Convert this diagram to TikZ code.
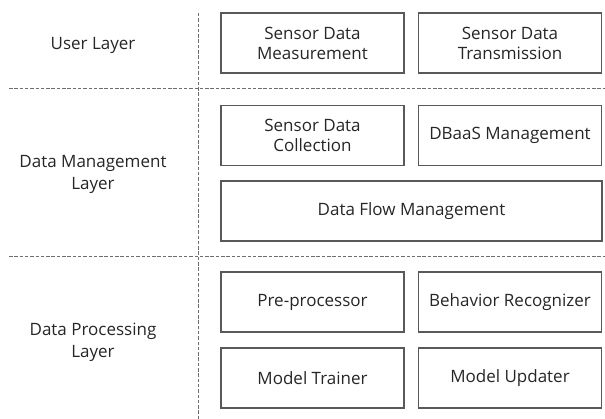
\documentclass[tikz,border=0pt]{standalone}
\usepackage{fontspec}
\setmainfont{Open Sans}
\definecolor{BoxLine}{HTML}{595959}
\definecolor{SepLine}{HTML}{6E6E6E}

\tikzset{
  blk/.style={draw=BoxLine, line width=1.2pt, minimum width=183pt, minimum height=60pt, align=center, inner sep=0pt, font=\fontsize{17}{20}\selectfont, text=black!85},
  wideblk/.style={blk, minimum width=381pt},
  lyr/.style={align=center, font=\fontsize{17}{22}\selectfont, text=black!85},
  sep/.style={dashed, dash pattern=on 3.5pt off 1.8pt, line width=1pt, color=SepLine}
}

\begin{document}
\begin{tikzpicture}[x=1pt, y=-1pt]

 \useasboundingbox (0,0) rectangle (605,419);

 %%%%%%%%%% Points pour travailler %%%%%%%%%%
 \coordinate (vtop) at (198,13);
 \coordinate (vbot) at (198,419);
 \coordinate (h1l) at (9,89);
 \coordinate (h1r) at (605,89);
 \coordinate (h2l) at (9,257);
 \coordinate (h2r) at (605,257);

 %%%%%%%%%% Separators %%%%%%%%%%
 \draw [sep] (vtop) -- (vbot) ;
 \draw [sep] (h1l) -- (h1r) ;
 \draw [sep] (h2l) -- (h2r) ;

 %%%%%%%%%% Layer names %%%%%%%%%%
 \node[lyr] (user) at (93,45) {User Layer};
 \node[lyr] (dman) at (93,174) {Data Management\\Layer};
 \node[lyr] (dproc) at (93,342) {Data Processing\\Layer};

 % User layer
 \node[blk] (meas) at (312.5,43) {Sensor Data\\Measurement};
 \node[blk] (trans) at (510,43) {Sensor Data\\Transmission};

 % Data management layer
 \node[blk] (coll) at (312.5,135.5) {Sensor Data\\Collection};
 \node[blk] (dbaas) at (510,135.5) {DBaaS Management};
 \node[wideblk] (flow) at (411.5,211) {Data Flow Management};

 % Data processing layer
 \node[blk] (prep) at (312.5,302) {Pre-processor};
 \node[blk] (recog) at (510,302) {Behavior Recognizer};
 \node[blk] (train) at (312.5,378) {Model Trainer};
 \node[blk] (upd) at (510,378) {Model Updater};

\end{tikzpicture}
\end{document}
